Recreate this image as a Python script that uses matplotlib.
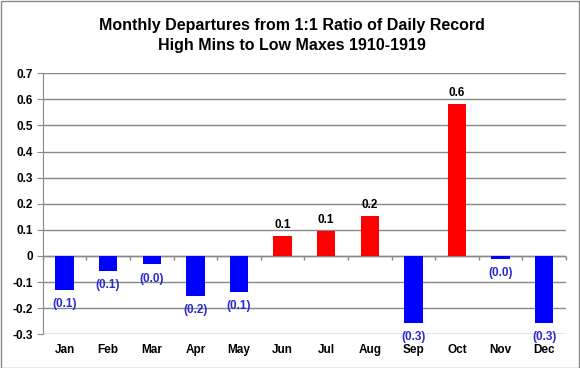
import matplotlib.pyplot as plt
from matplotlib.patches import Rectangle

months = ['Jan', 'Feb', 'Mar', 'Apr', 'May', 'Jun',
          'Jul', 'Aug', 'Sep', 'Oct', 'Nov', 'Dec']
departures = [-0.129, -0.056, -0.032, -0.152, -0.137, 0.075,
              0.094, 0.152, -0.256, 0.581, -0.011, -0.256]
y_ticks = [-0.3, -0.2, -0.1, 0, 0.1, 0.2, 0.3, 0.4, 0.5, 0.6, 0.7]

plt.rcParams['font.family'] = 'Liberation Sans'
plt.rcParams['font.weight'] = 'bold'

fig = plt.figure(figsize=(5.8, 3.68), dpi=100)
ax = fig.add_axes([0.0736, 0.0916, 0.9024, 0.7094])

x = range(len(months))
colors = ['#FF0000' if v >= 0 else '#0000FF' for v in departures]
ax.bar(x, departures, width=0.42, color=colors, zorder=3)

# data labels, accounting style for negatives
for i, v in enumerate(departures):
    if v >= 0:
        ax.annotate(f'{v:.1f}', (i, v), xytext=(0, 4), textcoords='offset points',
                    ha='center', va='bottom', fontsize=8.5, fontweight='bold', color='black')
    else:
        ax.annotate(f'({abs(v):.1f})', (i, v), xytext=(0, -6), textcoords='offset points',
                    ha='center', va='top', fontsize=8.5, fontweight='bold', color='#2a2ad0')

ax.set_xlim(-0.5, len(months) - 0.5)
ax.set_ylim(y_ticks[0], y_ticks[-1])
ax.set_yticks(y_ticks)
ax.set_yticklabels([f'{t:g}' for t in y_ticks], fontsize=8.5, fontweight='bold')
ax.set_xticks(list(x))
ax.set_xticklabels(months, fontsize=8.5, fontweight='bold')
ax.tick_params(axis='x', length=0, pad=7)
ax.tick_params(axis='y', length=4, color='#888888', pad=3)

ax.grid(axis='y', color='#888888', linewidth=1, zorder=0)
for s in ['top', 'right', 'bottom']:
    ax.spines[s].set_visible(False)
ax.spines['left'].set_color('#888888')

# zero axis line with category separators
ax.axhline(0, color='#888888', linewidth=1, zorder=2)
ax.vlines([i - 0.5 for i in range(len(months) + 1)], -0.016, 0,
          color='#888888', linewidth=1, zorder=2, clip_on=False)

fig.text(0.503, 0.932, 'Monthly Departures from 1:1 Ratio of Daily Record',
         ha='center', va='center', fontsize=11.5, fontweight='bold')
fig.text(0.503, 0.877, 'High Mins to Low Maxes 1910-1919',
         ha='center', va='center', fontsize=11.5, fontweight='bold')

fig.patches.append(Rectangle((0.001, 0.001), 0.997, 0.996, transform=fig.transFigure,
                             fill=False, edgecolor='#888888', linewidth=1))

fig.savefig('out.png', dpi=100)
